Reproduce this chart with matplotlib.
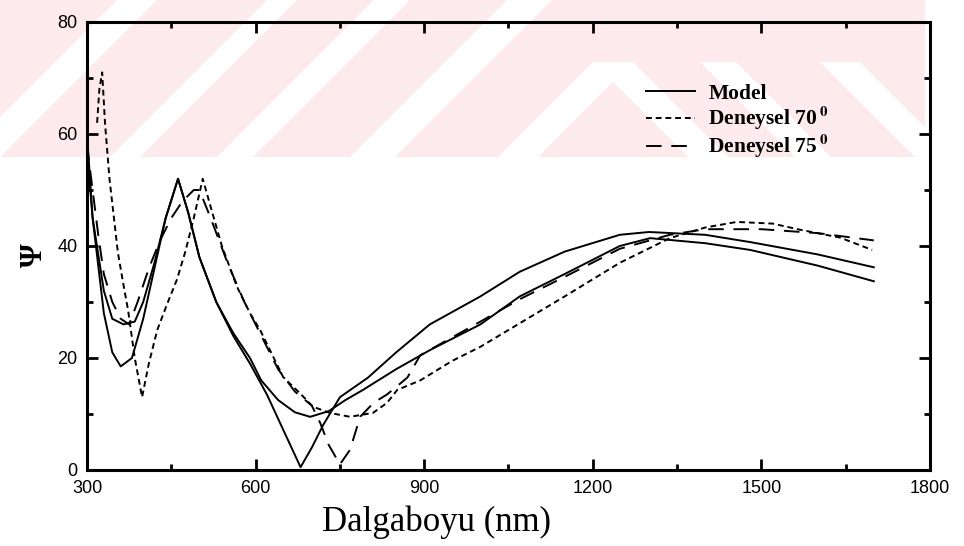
import matplotlib
matplotlib.use('Agg')
import matplotlib.pyplot as plt
from matplotlib.patches import Polygon
from matplotlib.ticker import MultipleLocator

# veri (grafikten okunan yaklasik degerler)
model_a_x = [300, 310, 330, 345, 360, 380, 400, 420, 440, 462, 480, 500, 530, 560, 590, 620,
             650, 680, 700, 720, 750, 800, 850, 910, 1000, 1070, 1150, 1248, 1300, 1400, 1480,
             1600, 1700]
model_a_y = [60, 45, 28, 21, 18.5, 20, 27, 36, 45, 52, 46, 38, 30, 24, 19, 13.5,
             7, 0.5, 4, 8, 13, 16.5, 21, 26, 31, 35.4, 39, 42, 42.5, 42, 40.7,
             38.5, 36.2]

model_b_x = [300, 310, 330, 345, 365, 385, 400, 420, 440, 462, 480, 500, 530, 560, 590, 610,
             640, 670, 697, 730, 760, 791, 850, 910, 1000, 1070, 1150, 1248, 1302, 1400, 1480,
             1600, 1700]
model_b_y = [57, 45, 32, 27, 26, 26.5, 30, 37, 45, 52, 46, 38, 30, 24.5, 20, 16,
             12.5, 10.3, 9.5, 10.5, 12.5, 14.3, 18, 21.4, 26, 31, 35, 40, 41.4, 40.5, 39.3,
             36.5, 33.7]

den70_x = [318, 322, 327, 332, 340, 355, 365, 373, 385, 398, 410, 425, 444, 460, 475, 490,
           506, 520, 540, 567, 590, 608, 630, 649, 679, 702, 732, 768, 809, 834, 852, 893,
           950, 1000, 1070, 1150, 1248, 1337, 1400, 1456, 1520, 1569, 1640, 1697]
den70_y = [62, 68, 71, 62, 52, 38.8, 33, 28.6, 20, 13, 19, 25, 30, 34, 39, 45,
           52, 47, 40, 32.7, 28, 25, 20.5, 16.6, 13.7, 11.3, 10.2, 9.5, 10.2, 12, 14.3, 16,
           19.5, 22, 26.2, 31, 37, 41.4, 43.3, 44.3, 44, 42.9, 41.5, 39.3]

den75_x = [300, 310, 320, 330, 345, 360, 375, 390, 410, 430, 450, 470, 490, 500, 520, 550,
           580, 610, 640, 670, 700, 715, 730, 750, 768, 786, 810, 834, 870, 893, 1000, 1070,
           1150, 1248, 1337, 1400, 1500, 1600, 1700]
den75_y = [58, 50, 42, 35, 30, 27, 26, 30, 36, 41, 45, 48, 50, 50, 45, 37,
           30, 24, 18, 14, 11.5, 8.4, 4.5, 1, 3.6, 9.5, 12, 13.5, 16.5, 20.5, 26.5, 30.5,
           34.5, 39.5, 42, 43, 43, 42.3, 41]

x_ticks = [300, 600, 900, 1200, 1500, 1800]
y_ticks = [0, 20, 40, 60, 80]
legend_labels = ['Model', r'Deneysel 70$\,^{\mathbf{0}}$', r'Deneysel 75$\,^{\mathbf{0}}$']

plt.rcParams['mathtext.fontset'] = 'stix'

W, H = 964, 546
fig = plt.figure(figsize=(W / 100, H / 100), dpi=100)


# arka plandaki pembe filigran (piksel koordinatlari, ust kenardan)
def px(x, y):
    return (x / W, 1 - y / H)


def band(pts, color):
    fig.patches.append(Polygon([px(*p) for p in pts], closed=True, transform=fig.transFigure,
                               facecolor=color, edgecolor='none', zorder=-5))


pink = '#fdeaed'
band([(0, 0), (925, 0), (925, 157), (0, 157)], pink)
for x0, w in [(-40, 40), (110, 30), (217, 36), (350, 45)]:
    band([(x0, 157), (x0 + w, 157), (x0 + w + 157, 0), (x0 + 157, 0)], 'white')
for x0, w in [(593, 40), (700, 36), (820, 40)]:
    band([(x0, 62), (x0 + w, 62), (x0 + w + 95, 157), (x0 + 95, 157)], 'white')
band([(593, 62), (633, 62), (538, 157), (498, 157)], 'white')

ax = fig.add_axes([87 / W, 1 - 470 / H, (930 - 87) / W, (470 - 22) / H])
ax.set_facecolor('none')
ax.set_zorder(2)

l1, = ax.plot(model_a_x, model_a_y, color='black', lw=1.4, ls='-')
ax.plot(model_b_x, model_b_y, color='black', lw=1.4, ls='-')
l2, = ax.plot(den70_x, den70_y, color='black', lw=1.4, ls=(0, (3, 2)))
l3, = ax.plot(den75_x, den75_y, color='black', lw=1.4, ls=(0, (8, 5)))

ax.set_xlim(300, 1800)
ax.set_ylim(0, 80)
ax.set_xticks(x_ticks)
ax.set_yticks(y_ticks)
ax.xaxis.set_minor_locator(MultipleLocator(150))
ax.yaxis.set_minor_locator(MultipleLocator(10))
ax.tick_params(which='both', direction='in', top=True, right=True, width=2, color='black')
ax.tick_params(which='major', length=8, labelsize=13, pad=7)
ax.tick_params(which='minor', length=4)
for lab in ax.get_xticklabels() + ax.get_yticklabels():
    lab.set_family('Liberation Sans')
for s in ax.spines.values():
    s.set_linewidth(2.2)

ax.set_xlabel('Dalgaboyu (nm)', family='Liberation Serif', fontsize=25)
ax.xaxis.set_label_coords(0.415, -0.08)
ax.set_ylabel('Ψ', family='Liberation Serif', fontsize=22, fontweight='bold')
ax.yaxis.set_label_coords(-0.045, 0.48)

ax.legend([l1, l2, l3], legend_labels, loc='upper left', bbox_to_anchor=(0.64, 0.905),
          frameon=False, handlelength=2.3, labelspacing=0.0, handletextpad=0.6,
          prop={'family': 'Liberation Serif', 'weight': 'bold', 'size': 15.5})

fig.savefig('out.png', dpi=100)
